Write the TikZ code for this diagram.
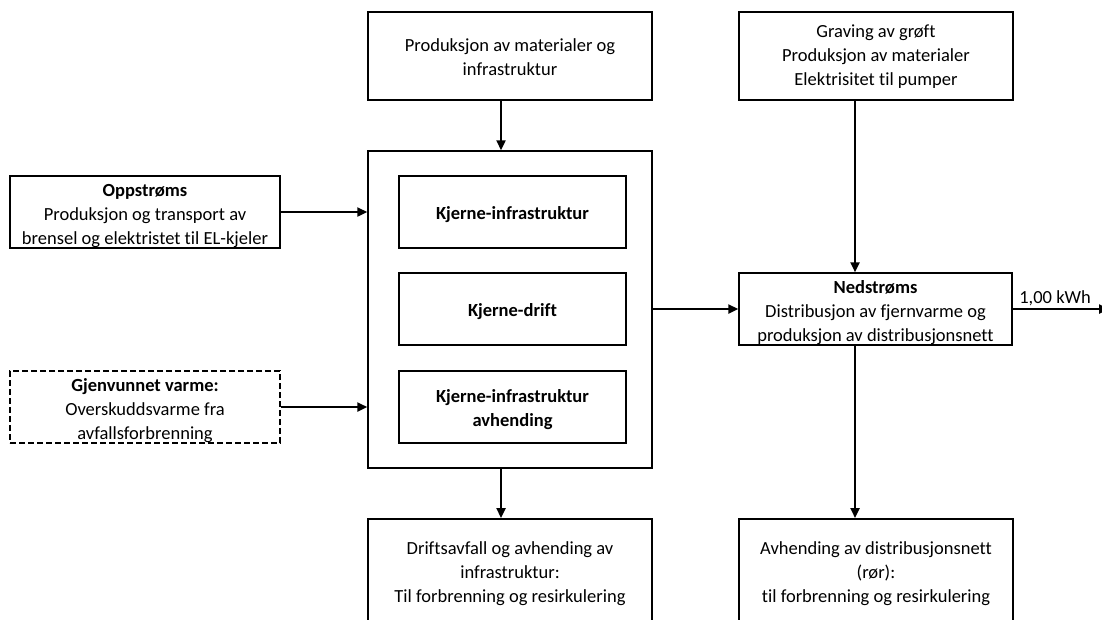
\documentclass[tikz,border=0pt]{standalone}
\usepackage{fontspec}
\setmainfont{Carlito}[Ligatures=NoCommon]
\usetikzlibrary{arrows.meta}
\begin{document}
\begin{tikzpicture}[x=1pt,y=-1pt,
  txt/.style={font=\fontsize{18.5}{24}\selectfont},
  box/.style={draw, line width=1.5pt, inner sep=0pt},
  in/.style={label={[txt, align=center, yshift=-4pt]center:{#1}}},
  intop/.style={label={[txt, align=center, yshift=-1pt]center:{#1}}},
  inb/.style={label={[txt, font=\fontsize{18.5}{24}\selectfont\bfseries, align=center, yshift=-3pt]center:{#1}}},
  arr/.style={line width=2.3pt, -{Triangle[length=10pt,width=9pt]}}]
\useasboundingbox (0,0) rectangle (1102,619);
\clip (0,0) rectangle (1102,619);
% top boxes
\node[box, minimum width=284pt, minimum height=88pt, intop={Produksjon av materialer og\\infrastruktur}] (top1) at (510,56) {};
\node[box, minimum width=274pt, minimum height=88pt, intop={Graving av grøft\\Produksjon av materialer\\Elektrisitet til pumper}] (top2) at (876,56) {};
% big box
\node[box, minimum width=284pt, minimum height=317pt] (big) at (510,309.5) {};
\node[box, minimum width=227pt, minimum height=72pt, inb={Kjerne-infrastruktur}] (k1) at (512.5,212) {};
\node[box, minimum width=227pt, minimum height=72pt, inb={Kjerne-drift}] (k2) at (512.5,309) {};
\node[box, minimum width=227pt, minimum height=72pt, inb={Kjerne-infrastruktur\\avhending}] (k3) at (512.5,407) {};
% left boxes
\node[box, minimum width=270pt, minimum height=72pt, in={\textbf{Oppstrøms}\\Produksjon og transport av\\brensel og elektristet til EL-kjeler}] (opp) at (145,212) {};
\node[box, dash pattern=on 6pt off 3pt, minimum width=270pt, minimum height=72pt, in={\textbf{Gjenvunnet varme:}\\Overskuddsvarme fra\\avfallsforbrenning}] (gjen) at (145,407) {};
% downstream
\node[box, minimum width=273pt, minimum height=72pt, in={\textbf{Nedstrøms}\\Distribusjon av fjernvarme og\\produksjon av distribusjonsnett}] (ned) at (875.5,309) {};
% bottom boxes
\node[box, minimum width=284pt, minimum height=140pt, anchor=north] (bot1) at (510,518) {};
\node[align=center, txt] at (510,574) {Driftsavfall og avhending av\\infrastruktur:\\Til forbrenning og resirkulering};
\node[box, minimum width=274pt, minimum height=140pt, anchor=north] (bot2) at (876,518) {};
\node[align=center, txt] at (876,574) {Avhending av distribusjonsnett\\(rør):\\til forbrenning og resirkulering};
\coordinate (out) at (1109,309);
\coordinate (a1) at (501,0);
\coordinate (a2) at (855,0);
% arrows
\draw[arr] (top1.south -| a1) -- (big.north -| a1);
\draw[arr] (opp.east) -- (opp.east -| big.west);
\draw[arr] (gjen.east) -- (gjen.east -| big.west);
\draw[arr] (big.east |- ned.west) -- (ned.west);
\draw[arr] (top2.south -| a2) -- (ned.north -| a2);
\draw[arr] (ned.south -| a2) -- (bot2.north -| a2);
\draw[arr] (big.south -| a1) -- (bot1.north -| a1);
\draw[arr] (ned.east) -- node[above, txt, inner sep=2pt, pos=0.44] {1,00 kWh} (out);
\end{tikzpicture}
\end{document}
